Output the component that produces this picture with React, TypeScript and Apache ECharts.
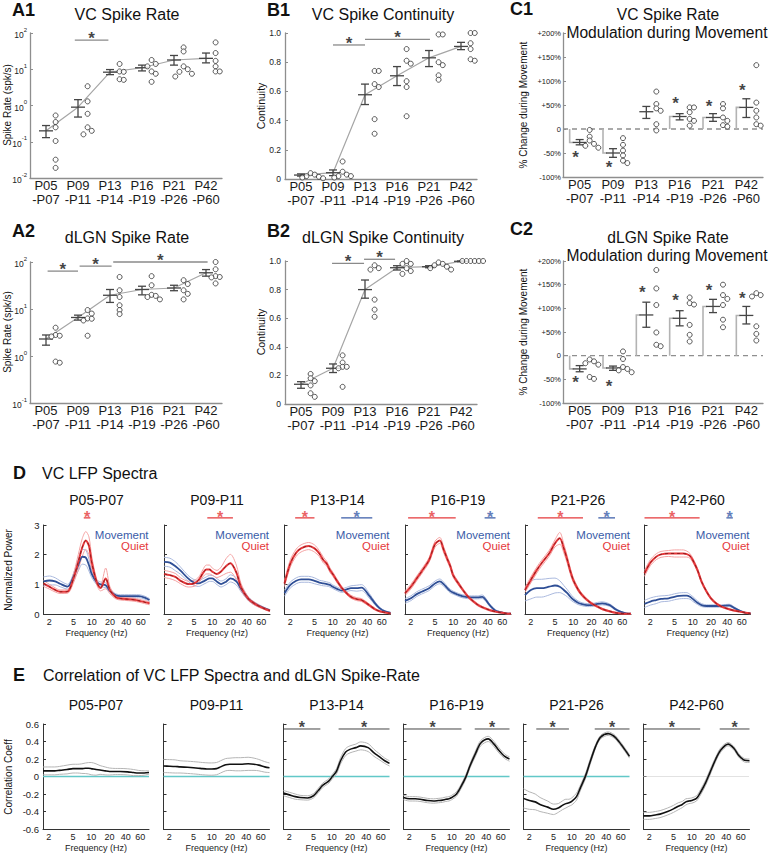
import React, { useEffect, useRef } from "react";
import * as echarts from "echarts";

const FONT = '"Liberation Sans", Arial, Helvetica, sans-serif';

// ---------- labels ----------
const AGE_START = ["P05", "P09", "P13", "P16", "P21", "P42"];
const AGE_END = ["-P07", "-P11", "-P14", "-P19", "-P26", "-P60"];
const LOG_TICKS_A1 = [0.01, 0.1, 1, 10, 100];
const LOG_TICKS_A2 = [0.1, 1, 10, 100];
const CONT_TICKS = [0, 0.2, 0.4, 0.6, 0.8, 1];
const MOD_TICKS = [-100, -50, 0, 50, 100, 150, 200];
const FREQ_TICKS = [2, 5, 10, 20, 40, 60];
const POWER_TICKS = [0, 1, 2, 3];
const CORR_TICKS = [-0.6, -0.4, -0.2, 0, 0.2, 0.4, 0.6];

// ---------- A1: VC spike rate ----------
const A1_MEAN = [0.2, 0.9, 8.3, 11, 18, 20];
const A1_LO = [0.13, 0.48, 7.1, 9, 13, 15];
const A1_HI = [0.28, 1.45, 9.8, 13, 24, 28];
const A1_DOTS = [
  [0.53, 0.35, 0.25, 0.105, 0.032, 0.019],
  [3.4, 1.3, 0.59, 0.25, 0.2, 0.16],
  [14, 8.7, 8.5, 5.3, 5.1],
  [18, 14, 12, 8.7, 7.5, 4.5],
  [40, 31, 12, 10, 8.5, 7.5, 6.3],
  [55, 28, 17, 12, 8.7, 8.7],
];
const A1_SIG = [[1.9, 2.95, 64]];

// ---------- A2: dLGN spike rate ----------
const A2_MEAN = [2.3, 6.6, 19.6, 26, 28, 59];
const A2_LO = [1.7, 5.8, 13.8, 20, 24.5, 50];
const A2_HI = [2.8, 7.4, 26, 30.5, 32, 69];
const A2_DOTS = [
  [4, 2.8, 2.7, 2.6, 0.76, 0.72],
  [9.5, 8, 6.3, 6.2, 5.7, 2.7],
  [48, 25, 18, 12, 9.5, 7.8],
  [50, 32, 20, 19, 18, 16],
  [41, 34, 25, 21, 16],
  [100, 70, 50, 48, 47, 35],
];
const A2_SIG = [[1.05, 2.0, 64], [2.05, 3.05, 82], [3.1, 6.05, 100]];

// ---------- B1: VC continuity ----------
const B1_MEAN = [0.027, 0.043, 0.577, 0.707, 0.83, 0.908];
const B1_LO = [0.02, 0.023, 0.51, 0.64, 0.77, 0.886];
const B1_HI = [0.035, 0.062, 0.65, 0.77, 0.88, 0.936];
const B1_DOTS = [
  [0.04, 0.03, 0.02, 0.01, 0.005, 0.015],
  [0.12, 0.05, 0.03, 0.02, 0.02, 0.01],
  [0.74, 0.74, 0.65, 0.63, 0.41, 0.31],
  [0.89, 0.81, 0.79, 0.67, 0.63, 0.43],
  [0.99, 0.99, 0.8, 0.78, 0.71, 0.68],
  [1.0, 1.0, 0.93, 0.89, 0.82, 0.81],
];
const B1_SIG = [[2, 3, 0.918], [3, 5.03, 0.957]];

// ---------- B2: dLGN continuity ----------
const B2_MEAN = [0.138, 0.25, 0.8, 0.953, 0.96, 0.998];
const B2_LO = [0.11, 0.22, 0.74, 0.937, 0.953, 0.995];
const B2_HI = [0.156, 0.28, 0.867, 0.967, 0.967, 1.0];
const B2_DOTS = [
  [0.21, 0.18, 0.16, 0.13, 0.075, 0.05],
  [0.34, 0.29, 0.26, 0.26, 0.25, 0.12],
  [0.97, 0.95, 0.94, 0.73, 0.66, 0.61],
  [1.0, 0.98, 0.98, 0.95, 0.93, 0.91],
  [0.99, 0.98, 0.97, 0.96, 0.95, 0.94],
  [1.0, 1.0, 1.0, 1.0, 1.0, 1.0],
];
const B2_SIG = [[1.97, 2.97, 0.984], [2.97, 3.94, 1.012]];

// ---------- C1: VC modulation (%) ----------
const C1_MEAN = [-28, -50, 36, 26, 24, 45];
const C1_LO = [-33, -59, 22, 19, 16, 24];
const C1_HI = [-22, -41, 47, 32, 32, 63];
const C1_DOTS = [
  [-2, -16, -24, -31, -35, -39],
  [-19, -33, -45, -55, -66, -71],
  [78, 52, 43, 38, 10, -3],
  [45, 45, 35, 21, 17, 7],
  [52, 43, 24, 17, 8, 5],
  [133, 55, 38, 24, 10, 7],
];
const C1_SIGNIF = [1, 1, 0, 1, 1, 1];
const C1_STAR = [-52, -73, null, 60, 55, 88];

// ---------- C2: dLGN modulation (%) ----------
const C2_MEAN = [-28, -26, 86, 79, 104, 85];
const C2_LO = [-34, -31, 60, 63, 91, 67];
const C2_HI = [-21, -22, 113, 95, 119, 104];
const C2_DOTS = [
  [-8, -12, -16, -19, -45, -49],
  [9, -7, -24, -28, -31, -35],
  [181, 142, 107, 49, 23, 20],
  [123, 111, 108, 65, 44, 30],
  [150, 128, 120, 107, 76, 60],
  [132, 128, 125, 62, 46, 32],
];
const C2_SIGNIF = [1, 1, 1, 1, 1, 1];
const C2_STAR = [-50, -57, 140, 123, 145, 128];

// ---------- D: VC LFP spectra ----------
const FREQ = [1.6, 2, 2.5, 3, 4, 5, 6, 7, 8, 9, 10, 12, 14, 17, 20, 25, 30, 40, 50, 60, 75, 90];

const D_MOV_P05 = [1.1, 1.13, 1.1, 1.02, 0.92, 1.25, 1.65, 1.93, 1.9, 1.65, 1.35, 1.08, 1.0, 0.97, 0.78, 0.63, 0.6, 0.6, 0.6, 0.6, 0.55, 0.47];
const D_QUI_P05 = [1.03, 0.92, 0.81, 0.75, 0.76, 1.2, 1.75, 2.25, 2.48, 2.3, 1.75, 1.1, 0.88, 1.2, 0.8, 0.57, 0.52, 0.5, 0.48, 0.45, 0.4, 0.36];
const D_MOV_P09 = [1.76, 1.73, 1.6, 1.46, 1.2, 1.06, 1.03, 1.09, 1.15, 1.2, 1.2, 1.09, 1.01, 1.09, 1.2, 1.1, 0.85, 0.5, 0.35, 0.27, 0.18, 0.12];
const D_QUI_P09 = [1.35, 1.31, 1.24, 1.12, 1.01, 1.03, 1.15, 1.37, 1.5, 1.5, 1.43, 1.35, 1.43, 1.62, 1.71, 1.4, 0.9, 0.5, 0.35, 0.26, 0.17, 0.11];
const D_MOV_P13 = [0.7, 0.98, 1.12, 1.17, 1.17, 1.12, 1.06, 1.03, 1.01, 0.98, 0.92, 0.84, 0.79, 0.83, 0.87, 0.87, 0.89, 0.62, 0.36, 0.19, 0.08, 0.04];
const D_QUI_P13 = [1.03, 1.71, 2.07, 2.21, 2.29, 2.21, 2.04, 1.82, 1.69, 1.48, 1.35, 1.09, 0.89, 0.7, 0.58, 0.5, 0.47, 0.3, 0.16, 0.09, 0.05, 0.02];
const D_MOV_P16 = [0.44, 0.53, 0.67, 0.75, 0.87, 1.03, 1.1, 1.0, 0.87, 0.77, 0.72, 0.65, 0.6, 0.57, 0.56, 0.56, 0.58, 0.3, 0.11, 0.06, 0.02, 0.01];
const D_QUI_P16 = [0.7, 0.92, 1.2, 1.43, 1.82, 2.35, 2.48, 2.15, 1.85, 1.6, 1.3, 1.05, 0.85, 0.62, 0.48, 0.32, 0.23, 0.13, 0.08, 0.05, 0.02, 0.01];
const D_MOV_P21 = [0.64, 0.81, 0.87, 0.87, 0.92, 0.96, 0.92, 0.81, 0.7, 0.58, 0.49, 0.38, 0.33, 0.3, 0.3, 0.34, 0.36, 0.3, 0.16, 0.08, 0.02, 0.01];
const D_QUI_P21 = [0.81, 1.15, 1.48, 1.71, 2.04, 2.38, 2.55, 2.21, 1.82, 1.43, 1.15, 0.83, 0.64, 0.47, 0.36, 0.25, 0.17, 0.09, 0.04, 0.02, 0.01, 0.01];
const D_MOV_P42 = [0.34, 0.42, 0.47, 0.51, 0.53, 0.58, 0.61, 0.62, 0.62, 0.58, 0.51, 0.38, 0.3, 0.27, 0.27, 0.27, 0.27, 0.29, 0.19, 0.11, 0.04, 0.02];
const D_QUI_P42 = [1.37, 1.73, 1.93, 2.01, 2.04, 2.04, 2.04, 2.04, 2.02, 1.96, 1.82, 1.48, 1.09, 0.75, 0.53, 0.34, 0.25, 0.16, 0.11, 0.08, 0.04, 0.02];

const D_MOV_SEM_P05 = [0.15, 0.15, 0.12, 0.1, 0.08, 0.12, 0.2, 0.25, 0.25, 0.2, 0.12, 0.08, 0.08, 0.08, 0.06, 0.05, 0.05, 0.05, 0.05, 0.05, 0.05, 0.05];
const D_QUI_SEM_P05 = [0.1, 0.08, 0.07, 0.06, 0.06, 0.15, 0.25, 0.3, 0.3, 0.3, 0.2, 0.1, 0.1, 0.35, 0.12, 0.06, 0.05, 0.05, 0.05, 0.05, 0.05, 0.05];
const D_MOV_SEM_P09 = [0.15, 0.15, 0.15, 0.12, 0.1, 0.1, 0.1, 0.1, 0.1, 0.1, 0.1, 0.1, 0.1, 0.1, 0.12, 0.12, 0.1, 0.06, 0.05, 0.04, 0.03, 0.03];
const D_QUI_SEM_P09 = [0.12, 0.12, 0.12, 0.1, 0.1, 0.1, 0.1, 0.12, 0.15, 0.15, 0.12, 0.12, 0.15, 0.25, 0.3, 0.25, 0.12, 0.06, 0.05, 0.04, 0.03, 0.03];
const D_MOV_SEM_P13 = [0.1, 0.1, 0.1, 0.1, 0.1, 0.1, 0.08, 0.08, 0.07, 0.07, 0.06, 0.06, 0.06, 0.07, 0.08, 0.1, 0.1, 0.08, 0.05, 0.03, 0.02, 0.02];
const D_QUI_SEM_P13 = [0.1, 0.12, 0.12, 0.12, 0.12, 0.12, 0.1, 0.1, 0.08, 0.08, 0.07, 0.06, 0.05, 0.05, 0.05, 0.05, 0.05, 0.04, 0.03, 0.02, 0.02, 0.02];
const D_MOV_SEM_P16 = [0.08, 0.08, 0.08, 0.08, 0.08, 0.08, 0.08, 0.07, 0.06, 0.06, 0.05, 0.05, 0.05, 0.05, 0.05, 0.05, 0.06, 0.04, 0.03, 0.02, 0.01, 0.01];
const D_QUI_SEM_P16 = [0.08, 0.08, 0.08, 0.08, 0.08, 0.1, 0.1, 0.1, 0.08, 0.08, 0.07, 0.06, 0.05, 0.05, 0.04, 0.04, 0.03, 0.03, 0.02, 0.02, 0.01, 0.01];
const D_MOV_SEM_P21 = [0.2, 0.3, 0.3, 0.3, 0.28, 0.25, 0.2, 0.15, 0.12, 0.1, 0.08, 0.06, 0.05, 0.05, 0.05, 0.05, 0.05, 0.04, 0.03, 0.02, 0.01, 0.01];
const D_QUI_SEM_P21 = [0.08, 0.1, 0.1, 0.1, 0.1, 0.12, 0.2, 0.15, 0.12, 0.1, 0.08, 0.06, 0.05, 0.04, 0.04, 0.03, 0.03, 0.02, 0.02, 0.01, 0.01, 0.01];
const D_MOV_SEM_P42 = [0.12, 0.12, 0.12, 0.1, 0.1, 0.1, 0.1, 0.1, 0.1, 0.08, 0.08, 0.06, 0.05, 0.04, 0.04, 0.04, 0.04, 0.04, 0.03, 0.02, 0.01, 0.01];
const D_QUI_SEM_P42 = [0.1, 0.1, 0.1, 0.1, 0.1, 0.12, 0.12, 0.12, 0.1, 0.08, 0.07, 0.06, 0.05, 0.04, 0.04, 0.03, 0.03, 0.02, 0.02, 0.01, 0.01, 0.01];

const D_SIG_QUIET = [[7.4, 9.5], [8.3, 22], [2.4, 5], [1.8, 11], [2.6, 14.5], [1.6, 13]];
const D_SIG_MOVE = [null, null, [13.8, 45], [33, 50], [26, 49], [36, 46]];

// ---------- E: correlation ----------
const E_P05 = [0.064, 0.064, 0.064, 0.07, 0.08, 0.09, 0.09, 0.09, 0.094, 0.094, 0.09, 0.08, 0.075, 0.064, 0.057, 0.057, 0.057, 0.053, 0.045, 0.04, 0.04, 0.045];
const E_P09 = [0.12, 0.118, 0.115, 0.11, 0.105, 0.1, 0.095, 0.09, 0.087, 0.085, 0.085, 0.09, 0.11, 0.135, 0.14, 0.14, 0.14, 0.145, 0.14, 0.13, 0.11, 0.1];
const E_P13 = [-0.19, -0.21, -0.23, -0.24, -0.245, -0.22, -0.16, -0.105, -0.075, -0.05, -0.01, 0.06, 0.18, 0.28, 0.31, 0.33, 0.35, 0.33, 0.27, 0.23, 0.18, 0.15];
const E_P16 = [-0.24, -0.255, -0.255, -0.26, -0.275, -0.28, -0.275, -0.27, -0.26, -0.255, -0.24, -0.2, -0.125, -0.01, 0.12, 0.27, 0.38, 0.43, 0.37, 0.3, 0.23, 0.2];
const E_P21 = [-0.25, -0.275, -0.29, -0.32, -0.35, -0.375, -0.36, -0.33, -0.31, -0.3, -0.285, -0.23, -0.125, 0.01, 0.16, 0.35, 0.45, 0.49, 0.46, 0.4, 0.31, 0.23];
const E_P42 = [-0.45, -0.45, -0.44, -0.43, -0.4, -0.37, -0.34, -0.32, -0.29, -0.28, -0.275, -0.25, -0.18, -0.07, 0.045, 0.2, 0.3, 0.37, 0.32, 0.24, 0.185, 0.18];

const E_SEM_P05 = [0.045, 0.045, 0.045, 0.045, 0.05, 0.05, 0.05, 0.055, 0.06, 0.065, 0.07, 0.065, 0.05, 0.045, 0.04, 0.035, 0.035, 0.035, 0.035, 0.03, 0.025, 0.02];
const E_SEM_P09 = [0.075, 0.075, 0.075, 0.07, 0.07, 0.07, 0.07, 0.07, 0.07, 0.07, 0.07, 0.07, 0.07, 0.07, 0.07, 0.075, 0.075, 0.075, 0.07, 0.065, 0.06, 0.055];
const E_SEM_P13 = [0.03, 0.03, 0.03, 0.025, 0.025, 0.025, 0.025, 0.025, 0.025, 0.025, 0.025, 0.03, 0.035, 0.04, 0.04, 0.04, 0.045, 0.045, 0.04, 0.035, 0.03, 0.03];
const E_SEM_P16 = [0.025, 0.025, 0.025, 0.025, 0.025, 0.025, 0.025, 0.025, 0.025, 0.025, 0.025, 0.025, 0.025, 0.025, 0.025, 0.03, 0.03, 0.03, 0.03, 0.03, 0.025, 0.025];
const E_SEM_P21 = [0.11, 0.1, 0.09, 0.08, 0.07, 0.06, 0.05, 0.05, 0.05, 0.04, 0.04, 0.04, 0.03, 0.03, 0.03, 0.02, 0.02, 0.02, 0.02, 0.02, 0.02, 0.02];
const E_SEM_P42 = [0.04, 0.04, 0.04, 0.04, 0.04, 0.04, 0.04, 0.035, 0.035, 0.03, 0.03, 0.03, 0.03, 0.03, 0.03, 0.025, 0.025, 0.02, 0.02, 0.02, 0.02, 0.02];

const E_SIG = [[], [], [[1.6, 6.5], [13, 90]], [[1.6, 14.5], [24, 90]], [[2.6, 9], [24, 90]], [[1.6, 13.8], [29, 90]]];

const D_MOV = [D_MOV_P05, D_MOV_P09, D_MOV_P13, D_MOV_P16, D_MOV_P21, D_MOV_P42];
const D_QUI = [D_QUI_P05, D_QUI_P09, D_QUI_P13, D_QUI_P16, D_QUI_P21, D_QUI_P42];
const D_MOV_SEM = [D_MOV_SEM_P05, D_MOV_SEM_P09, D_MOV_SEM_P13, D_MOV_SEM_P16, D_MOV_SEM_P21, D_MOV_SEM_P42];
const D_QUI_SEM = [D_QUI_SEM_P05, D_QUI_SEM_P09, D_QUI_SEM_P13, D_QUI_SEM_P16, D_QUI_SEM_P21, D_QUI_SEM_P42];
const E_MEAN = [E_P05, E_P09, E_P13, E_P16, E_P21, E_P42];
const E_SEM = [E_SEM_P05, E_SEM_P09, E_SEM_P13, E_SEM_P16, E_SEM_P21, E_SEM_P42];

// ---------- style constants ----------
const AX_TOP = "#8e8e8e";
const AX = "#333";
const RED = "#e5383b";
const RED_DARK = "#7d1515";
const RED_BAND = "#f4a3a3";
const BLUE = "#2f4f96";
const BLUE_TXT = "#3a5ca8";
const BLUE_BAND = "#aab9de";
const CYAN = "#62c8c8";

function buildOption() {
  const grid: any[] = [];
  const xAxis: any[] = [];
  const yAxis: any[] = [];
  const series: any[] = [];
  const graphic: any[] = [];

  const txt = (text: string, x: number, y: number, size: number, o: any = {}) => {
    graphic.push({
      type: "text",
      x,
      y,
      rotation: o.rot || 0,
      silent: true,
      style: {
        text,
        fill: o.color || "#111",
        font: `${o.bold ? "bold " : ""}${size}px ${FONT}`,
        textAlign: o.align || "center",
        textVerticalAlign: "middle",
      },
    });
  };

  const star = (i: number, x: number, y: number, color: string, size: number, offY: number) => {
    series.push({
      type: "scatter",
      xAxisIndex: i,
      yAxisIndex: i,
      data: [[x, y]],
      symbol: "circle",
      symbolSize: 1,
      itemStyle: { color: "rgba(0,0,0,0)" },
      label: {
        show: true,
        formatter: "*",
        position: "inside",
        color,
        fontSize: size,
        lineHeight: 8,
        fontWeight: "bold",
        fontFamily: FONT,
        offset: [0, offY],
      },
      silent: true,
      clip: false,
      z: 6,
    });
  };

  const sigLine = (i: number, a: number, b: number, y: number, color: string, width: number) => {
    series.push({
      type: "line",
      xAxisIndex: i,
      yAxisIndex: i,
      data: [[a, y], [b, y]],
      symbol: "none",
      showSymbol: false,
      lineStyle: { color, width },
      clip: false,
      silent: true,
      z: 4,
    });
  };

  const placeDots = (groups: number[][], tf: (v: number) => number, thr: number) => {
    const seq = [0, 1, -1, 2, -2, 3, -3];
    const out: number[][] = [];
    groups.forEach((g, i) => {
      const s = [...g].sort((a, b) => b - a);
      let run = 0;
      s.forEach((v, k) => {
        if (k > 0 && Math.abs(tf(v) - tf(s[k - 1])) < thr) run++;
        else run = 0;
        out.push([i + 1 + 0.3 + seq[run % seq.length] * 0.13, v]);
      });
    });
    return out;
  };

  // ---------------- top panels ----------------
  const addTop = (c: any) => {
    const i = grid.length;
    grid.push({ left: c.left, top: c.top, width: c.width, height: c.height });
    xAxis.push({
      gridIndex: i,
      type: "value",
      min: 0.5,
      max: 6.5,
      axisLine: { show: true, onZero: false, lineStyle: { color: AX_TOP, width: 1.3 } },
      axisTick: { show: false },
      splitLine: { show: false },
      axisLabel: {
        customValues: [1, 2, 3, 4, 5, 6],
        formatter: (v: number) => {
          const k = Math.round(v) - 1;
          return AGE_START[k] + "\n" + AGE_END[k];
        },
        fontSize: 13,
        lineHeight: 14,
        color: "#1a1a1a",
        fontFamily: FONT,
        margin: 0,
      },
    });
    yAxis.push({
      gridIndex: i,
      type: c.log ? "log" : "value",
      logBase: 10,
      min: c.yMin,
      max: c.yMax,
      axisLine: { show: true, onZero: false, lineStyle: { color: AX_TOP, width: 1.3 } },
      axisTick: { show: true, inside: true, length: 3, customValues: c.ticks, lineStyle: { color: AX_TOP } },
      splitLine: { show: false },
      axisLabel: {
        customValues: c.ticks,
        formatter: c.fmt,
        fontSize: c.labelSize,
        color: "#222",
        fontFamily: FONT,
        margin: c.labelMargin,
        rich: c.rich,
      },
    });
    if (c.zeroLine) {
      series.push({
        type: "line",
        xAxisIndex: i,
        yAxisIndex: i,
        data: [[0.5, 0], [6.5, 0]],
        symbol: "none",
        lineStyle: { color: "#8f8f8f", width: 1.3, type: [5, 4] },
        silent: true,
        z: 1,
      });
    }
    if (c.connect) {
      series.push({
        type: "line",
        xAxisIndex: i,
        yAxisIndex: i,
        data: c.mean.map((m: number, k: number) => [k + 1, m]),
        symbol: "none",
        lineStyle: { color: "#a6a6a6", width: 1.2 },
        silent: true,
        z: 2,
      });
    }
    series.push({
      type: "custom",
      xAxisIndex: i,
      yAxisIndex: i,
      coordinateSystem: "cartesian2d",
      silent: true,
      z: 3,
      data: c.mean.map((m: number, k: number) => [k + 1, m, c.lo[k], c.hi[k], c.signif ? c.signif[k] : 0]),
      encode: { x: 0, y: [1, 2, 3] },
      renderItem: (_p: any, api: any) => {
        const x = api.value(0);
        const m = api.value(1);
        const pm = api.coord([x, m]);
        const pl = api.coord([x, api.value(2)]);
        const ph = api.coord([x, api.value(3)]);
        const st = { stroke: "#454545", lineWidth: 1.3 };
        const ch: any[] = [];
        if (api.value(4)) {
          const p0 = api.coord([x - 0.3, 0]);
          const p1 = api.coord([x - 0.3, m]);
          ch.push({
            type: "polyline",
            shape: { points: [p0, p1, [pm[0] - 6, pm[1]]] },
            style: { stroke: "#b3b3b3", lineWidth: 1.6, fill: null },
          });
        }
        ch.push(
          { type: "line", shape: { x1: pm[0], y1: pl[1], x2: pm[0], y2: ph[1] }, style: st },
          { type: "line", shape: { x1: pm[0] - 4, y1: pl[1], x2: pm[0] + 4, y2: pl[1] }, style: st },
          { type: "line", shape: { x1: pm[0] - 4, y1: ph[1], x2: pm[0] + 4, y2: ph[1] }, style: st },
          { type: "line", shape: { x1: pm[0] - 7, y1: pm[1], x2: pm[0] + 7, y2: pm[1] }, style: st }
        );
        return { type: "group", children: ch };
      },
    });
    series.push({
      type: "scatter",
      xAxisIndex: i,
      yAxisIndex: i,
      data: placeDots(c.dots, c.tf, c.thr),
      symbol: "circle",
      symbolSize: 5,
      itemStyle: { color: "#fff", borderColor: "#1a1a1a", borderWidth: 0.9 },
      silent: true,
      clip: false,
      z: 5,
    });
    (c.sig || []).forEach((s: number[]) => {
      sigLine(i, s[0], s[1], s[2], "#8a8a8a", 1.3);
      star(i, (s[0] + s[1]) / 2, s[2], "#111", 17, -1.5);
    });
    if (c.stars) {
      c.stars.forEach((v: number | null, k: number) => {
        if (v !== null) star(i, k + 1 - 0.12, v, "#111", 17, 3.5);
      });
    }
    return i;
  };

  const logRich = {
    b: { fontSize: 8.5, fontFamily: FONT, color: "#222", lineHeight: 13, verticalAlign: "bottom" },
    s: { fontSize: 6, fontFamily: FONT, color: "#222", lineHeight: 7, verticalAlign: "top" },
  };
  const logFmt = (v: number) => `{b|10}{s|${Math.round(Math.log10(v))}}`;
  const contFmt = (v: number) => (v === 0 ? "0" : v.toFixed(1));
  const modFmt = (v: number) => (v > 0 ? `+${v}%` : v === 0 ? "0" : `${v}%`);
  const lg = (v: number) => Math.log10(v);
  const id = (v: number) => v;

  addTop({ left: 30, top: 33, width: 192, height: 145, log: true, yMin: 0.01, yMax: 100, ticks: LOG_TICKS_A1, fmt: logFmt, rich: logRich, labelSize: 8.5, labelMargin: 3, mean: A1_MEAN, lo: A1_LO, hi: A1_HI, dots: A1_DOTS, tf: lg, thr: 0.11, connect: true, sig: A1_SIG });
  addTop({ left: 285, top: 33, width: 192, height: 146, log: false, yMin: 0, yMax: 1, ticks: CONT_TICKS, fmt: contFmt, labelSize: 8.5, labelMargin: 4, mean: B1_MEAN, lo: B1_LO, hi: B1_HI, dots: B1_DOTS, tf: id, thr: 0.027, connect: true, sig: B1_SIG });
  addTop({ left: 563, top: 33, width: 200, height: 144, log: false, yMin: -100, yMax: 200, ticks: MOD_TICKS, fmt: modFmt, labelSize: 7.5, labelMargin: 2, mean: C1_MEAN, lo: C1_LO, hi: C1_HI, dots: C1_DOTS, tf: id, thr: 8, zeroLine: true, signif: C1_SIGNIF, stars: C1_STAR });
  addTop({ left: 30, top: 262, width: 192, height: 141, log: true, yMin: 0.1, yMax: 100, ticks: LOG_TICKS_A2, fmt: logFmt, rich: logRich, labelSize: 8.5, labelMargin: 3, mean: A2_MEAN, lo: A2_LO, hi: A2_HI, dots: A2_DOTS, tf: lg, thr: 0.085, connect: true, sig: A2_SIG });
  addTop({ left: 285, top: 261, width: 192, height: 143, log: false, yMin: 0, yMax: 1, ticks: CONT_TICKS, fmt: contFmt, labelSize: 8.5, labelMargin: 4, mean: B2_MEAN, lo: B2_LO, hi: B2_HI, dots: B2_DOTS, tf: id, thr: 0.028, connect: true, sig: B2_SIG });
  addTop({ left: 563, top: 261, width: 200, height: 142, log: false, yMin: -100, yMax: 200, ticks: MOD_TICKS, fmt: modFmt, labelSize: 7.5, labelMargin: 2, mean: C2_MEAN, lo: C2_LO, hi: C2_HI, dots: C2_DOTS, tf: id, thr: 8.5, zeroLine: true, signif: C2_SIGNIF, stars: C2_STAR });

  // top texts
  txt("A1", 12, 10, 18, { bold: true, align: "left" });
  txt("VC Spike Rate", 127, 14, 16);
  txt("B1", 267, 10, 18, { bold: true, align: "left" });
  txt("VC Spike Continuity", 383, 14, 16);
  txt("C1", 510, 9, 18, { bold: true, align: "left" });
  txt("VC Spike Rate", 668, 14, 15.6);
  txt("Modulation during Movement", 667, 32, 15.6);
  txt("A2", 12, 231, 18, { bold: true, align: "left" });
  txt("dLGN Spike Rate", 127, 237, 16);
  txt("B2", 267, 231, 18, { bold: true, align: "left" });
  txt("dLGN Spike Continuity", 383, 237, 16);
  txt("C2", 510, 229, 18, { bold: true, align: "left" });
  txt("dLGN Spike Rate", 668, 237, 15.6);
  txt("Modulation during Movement", 667, 255, 15.6);
  const ROT = Math.PI / 2;
  txt("Spike Rate (spk/s)", 7, 105, 10, { rot: ROT });
  txt("Continuity", 261, 106, 10.5, { rot: ROT });
  txt("% Change during Movement", 523, 105, 10, { rot: ROT });
  txt("Spike Rate (spk/s)", 7, 332, 10, { rot: ROT });
  txt("Continuity", 261, 332, 10.5, { rot: ROT });
  txt("% Change during Movement", 523, 332, 10, { rot: ROT });

  // ---------------- frequency panels ----------------
  const FW = 106;
  const D_LEFTS = [43.5, 164, 284.5, 405, 525, 644.5];
  const E_LEFTS = [43, 163.5, 283.5, 403.5, 523.5, 643.5];
  const D_TOP = 525, D_H = 89;
  const E_TOP = 724, E_H = 106;

  const tickTxt = { fontSize: 9, fontFamily: FONT, color: "#222" };
  const freqFmt = (v: number) => {
    const r = Math.round(v);
    if (r === 40) return `{l|${r}}`;
    if (r === 60) return `{r|${r}}`;
    return `{n|${r}}`;
  };

  const addFreq = (left: number, top: number, h: number, yMin: number, yMax: number, ticks: number[], showLab: boolean, fmt: any) => {
    const i = grid.length;
    grid.push({ left, top, width: FW, height: h });
    xAxis.push({
      gridIndex: i,
      type: "log",
      logBase: 10,
      min: FREQ[0],
      max: FREQ[FREQ.length - 1],
      axisLine: { show: true, onZero: false, lineStyle: { color: AX, width: 1 } },
      axisTick: { show: false },
      splitLine: { show: false },
      axisLabel: {
        customValues: FREQ_TICKS,
        formatter: freqFmt,
        fontSize: 9,
        color: "#222",
        fontFamily: FONT,
        margin: 3,
        rich: {
          n: tickTxt,
          l: { ...tickTxt, padding: [0, 4, 0, 0] },
          r: { ...tickTxt, padding: [0, 0, 0, 4] },
        },
      },
      name: "Frequency (Hz)",
      nameLocation: "middle",
      nameGap: 14,
      nameTextStyle: { fontSize: 9, fontFamily: FONT, color: "#222" },
    });
    yAxis.push({
      gridIndex: i,
      type: "value",
      min: yMin,
      max: yMax,
      axisLine: { show: true, onZero: false, lineStyle: { color: AX, width: 1 } },
      axisTick: { show: true, inside: true, length: 3, customValues: ticks, lineStyle: { color: AX } },
      splitLine: { show: false },
      axisLabel: {
        show: showLab,
        customValues: ticks,
        formatter: fmt,
        fontSize: 9.5,
        color: "#222",
        fontFamily: FONT,
        margin: 4,
      },
    });
    return i;
  };

  const curve = (i: number, ys: number[], color: string, width: number, z: number, type: any = "solid") => {
    series.push({
      type: "line",
      xAxisIndex: i,
      yAxisIndex: i,
      data: FREQ.map((f, k) => [f, ys[k]]),
      symbol: "none",
      showSymbol: false,
      smooth: 0.3,
      lineStyle: { color, width, type },
      silent: true,
      clip: true,
      z,
    });
  };

  // D row
  txt("D", 13, 473, 18, { bold: true, align: "left" });
  txt("VC LFP Spectra", 42, 473, 16, { align: "left" });
  txt("Normalized Power", 8, 570, 10, { rot: ROT });
  for (let k = 0; k < 6; k++) {
    const i = addFreq(D_LEFTS[k], D_TOP, D_H, 0, 3, POWER_TICKS, k === 0, (v: number) => String(v));
    const mv = D_MOV[k], qu = D_QUI[k], ms = D_MOV_SEM[k], qs = D_QUI_SEM[k];
    curve(i, mv.map((m, j) => m + ms[j]), BLUE_BAND, 1, 2);
    curve(i, mv.map((m, j) => m - ms[j]), BLUE_BAND, 1, 2);
    curve(i, qu.map((m, j) => m + qs[j]), RED_BAND, 1, 2);
    curve(i, qu.map((m, j) => m - qs[j]), RED_BAND, 1, 2);
    curve(i, mv, BLUE, 1.8, 3);
    curve(i, qu, RED, 2, 4);
    curve(i, qu, RED_DARK, 0.8, 4, [3, 3]);
    const rq = D_SIG_QUIET[k];
    sigLine(i, rq[0], rq[1], 3.24, RED, 1.4);
    star(i, Math.sqrt(rq[0] * rq[1]), 3.24, RED, 16, 0);
    const bm = D_SIG_MOVE[k];
    if (bm) {
      sigLine(i, bm[0], bm[1], 3.24, BLUE_TXT, 1.4);
      star(i, Math.sqrt(bm[0] * bm[1]), 3.24, BLUE_TXT, 16, 0);
    }
    const cx = D_LEFTS[k] + FW / 2;
    txt(`${AGE_START[k]}${AGE_END[k]}`, cx, 500, 14);
    txt("Movement", D_LEFTS[k] + FW - 1, 535, 11.5, { align: "right", color: BLUE_TXT });
    txt("Quiet", D_LEFTS[k] + FW - 1, 546, 11.5, { align: "right", color: RED });
  }

  // E row
  txt("E", 13, 675, 18, { bold: true, align: "left" });
  txt("Correlation of VC LFP Spectra and dLGN Spike-Rate", 43, 675, 16, { align: "left" });
  txt("Correlation Coeff", 8, 777, 10, { rot: ROT });
  const corrFmt = (v: number) => (Math.abs(v) < 1e-9 ? "0" : v.toFixed(1));
  for (let k = 0; k < 6; k++) {
    const i = addFreq(E_LEFTS[k], E_TOP, E_H, -0.6, 0.6, CORR_TICKS, k === 0, corrFmt);
    series.push({
      type: "line",
      xAxisIndex: i,
      yAxisIndex: i,
      data: [[FREQ[0], 0], [FREQ[FREQ.length - 1], 0]],
      symbol: "none",
      lineStyle: k === 5 ? { color: "#c4c4c4", width: 1, type: "dotted" } : { color: CYAN, width: 1.5 },
      silent: true,
      z: 1,
    });
    const m = E_MEAN[k], s = E_SEM[k];
    curve(i, m.map((v, j) => v + s[j]), "#b5b5b5", 1, 2);
    curve(i, m.map((v, j) => v - s[j]), "#b5b5b5", 1, 2);
    curve(i, m, "#111", 1.6, 3);
    E_SIG[k].forEach((b: number[]) => {
      sigLine(i, b[0], b[1], 0.543, "#444", 1);
      star(i, Math.sqrt(b[0] * b[1]), 0.543, "#111", 16, -1.5);
    });
    txt(`${AGE_START[k]}${AGE_END[k]}`, E_LEFTS[k] + FW / 2, 705, 14);
  }

  return {
    animation: false,
    backgroundColor: "#fff",
    grid,
    xAxis,
    yAxis,
    series,
    graphic: { elements: graphic },
  };
}

export default function App() {
  const ref = useRef<HTMLDivElement>(null);
  useEffect(() => {
    document.body.style.margin = "0";
    const chart = echarts.init(ref.current as HTMLDivElement, null, { renderer: "svg" });
    chart.setOption(buildOption() as any);
    return () => chart.dispose();
  }, []);
  return <div ref={ref} style={{ width: 772, height: 853, background: "#fff" }} />;
}
